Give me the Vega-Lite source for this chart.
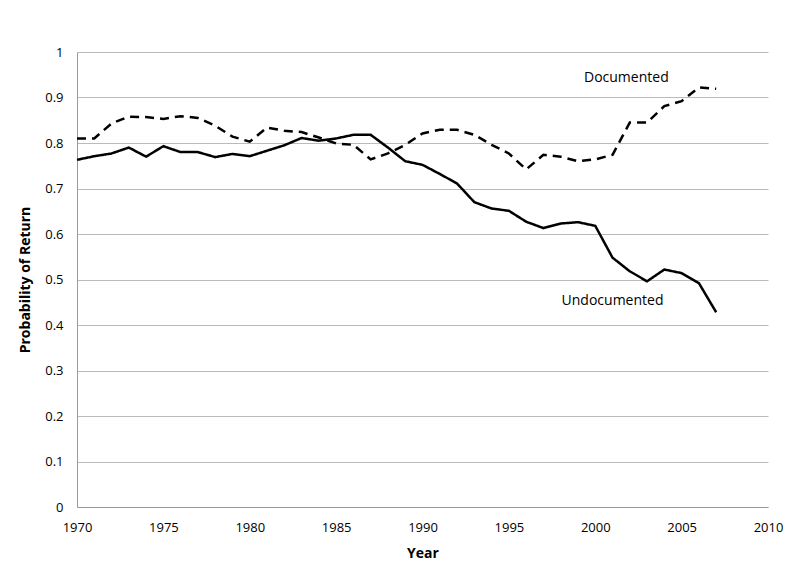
{
  "$schema": "https://vega.github.io/schema/vega-lite/v6.json",
  "width": 691,
  "height": 455,
  "autosize": {"type": "none"},
  "padding": {"left": 77, "top": 52, "right": 32, "bottom": 74},
  "background": "white",
  "config": {
    "font": "Open Sans",
    "view": {"stroke": null},
    "axis": {"labelFont": "Open Sans", "titleFont": "Open Sans", "labelColor": "#000", "titleColor": "#000", "labelFontSize": 13, "titleFontSize": 14, "titleFontWeight": "bold"}
  },
  "datasets": {
    "series": [
      {"year": 1970, "series": "Undocumented", "p": 0.763},
      {"year": 1971, "series": "Undocumented", "p": 0.771},
      {"year": 1972, "series": "Undocumented", "p": 0.777},
      {"year": 1973, "series": "Undocumented", "p": 0.790},
      {"year": 1974, "series": "Undocumented", "p": 0.770},
      {"year": 1975, "series": "Undocumented", "p": 0.793},
      {"year": 1976, "series": "Undocumented", "p": 0.780},
      {"year": 1977, "series": "Undocumented", "p": 0.780},
      {"year": 1978, "series": "Undocumented", "p": 0.769},
      {"year": 1979, "series": "Undocumented", "p": 0.776},
      {"year": 1980, "series": "Undocumented", "p": 0.771},
      {"year": 1981, "series": "Undocumented", "p": 0.783},
      {"year": 1982, "series": "Undocumented", "p": 0.795},
      {"year": 1983, "series": "Undocumented", "p": 0.811},
      {"year": 1984, "series": "Undocumented", "p": 0.805},
      {"year": 1985, "series": "Undocumented", "p": 0.810},
      {"year": 1986, "series": "Undocumented", "p": 0.818},
      {"year": 1987, "series": "Undocumented", "p": 0.818},
      {"year": 1988, "series": "Undocumented", "p": 0.790},
      {"year": 1989, "series": "Undocumented", "p": 0.760},
      {"year": 1990, "series": "Undocumented", "p": 0.752},
      {"year": 1991, "series": "Undocumented", "p": 0.732},
      {"year": 1992, "series": "Undocumented", "p": 0.711},
      {"year": 1993, "series": "Undocumented", "p": 0.670},
      {"year": 1994, "series": "Undocumented", "p": 0.656},
      {"year": 1995, "series": "Undocumented", "p": 0.651},
      {"year": 1996, "series": "Undocumented", "p": 0.627},
      {"year": 1997, "series": "Undocumented", "p": 0.613},
      {"year": 1998, "series": "Undocumented", "p": 0.623},
      {"year": 1999, "series": "Undocumented", "p": 0.626},
      {"year": 2000, "series": "Undocumented", "p": 0.618},
      {"year": 2001, "series": "Undocumented", "p": 0.548},
      {"year": 2002, "series": "Undocumented", "p": 0.518},
      {"year": 2003, "series": "Undocumented", "p": 0.496},
      {"year": 2004, "series": "Undocumented", "p": 0.522},
      {"year": 2005, "series": "Undocumented", "p": 0.514},
      {"year": 2006, "series": "Undocumented", "p": 0.492},
      {"year": 2007, "series": "Undocumented", "p": 0.428},
      {"year": 1970, "series": "Documented", "p": 0.810},
      {"year": 1971, "series": "Documented", "p": 0.810},
      {"year": 1972, "series": "Documented", "p": 0.843},
      {"year": 1973, "series": "Documented", "p": 0.858},
      {"year": 1974, "series": "Documented", "p": 0.857},
      {"year": 1975, "series": "Documented", "p": 0.853},
      {"year": 1976, "series": "Documented", "p": 0.859},
      {"year": 1977, "series": "Documented", "p": 0.855},
      {"year": 1978, "series": "Documented", "p": 0.838},
      {"year": 1979, "series": "Documented", "p": 0.814},
      {"year": 1980, "series": "Documented", "p": 0.803},
      {"year": 1981, "series": "Documented", "p": 0.834},
      {"year": 1982, "series": "Documented", "p": 0.827},
      {"year": 1983, "series": "Documented", "p": 0.824},
      {"year": 1984, "series": "Documented", "p": 0.812},
      {"year": 1985, "series": "Documented", "p": 0.799},
      {"year": 1986, "series": "Documented", "p": 0.796},
      {"year": 1987, "series": "Documented", "p": 0.764},
      {"year": 1988, "series": "Documented", "p": 0.777},
      {"year": 1989, "series": "Documented", "p": 0.796},
      {"year": 1990, "series": "Documented", "p": 0.821},
      {"year": 1991, "series": "Documented", "p": 0.829},
      {"year": 1992, "series": "Documented", "p": 0.829},
      {"year": 1993, "series": "Documented", "p": 0.818},
      {"year": 1994, "series": "Documented", "p": 0.796},
      {"year": 1995, "series": "Documented", "p": 0.777},
      {"year": 1996, "series": "Documented", "p": 0.742},
      {"year": 1997, "series": "Documented", "p": 0.774},
      {"year": 1998, "series": "Documented", "p": 0.770},
      {"year": 1999, "series": "Documented", "p": 0.760},
      {"year": 2000, "series": "Documented", "p": 0.764},
      {"year": 2001, "series": "Documented", "p": 0.774},
      {"year": 2002, "series": "Documented", "p": 0.845},
      {"year": 2003, "series": "Documented", "p": 0.845},
      {"year": 2004, "series": "Documented", "p": 0.881},
      {"year": 2005, "series": "Documented", "p": 0.892},
      {"year": 2006, "series": "Documented", "p": 0.922},
      {"year": 2007, "series": "Documented", "p": 0.919}
    ],
    "labels": [
      {"year": 2001.8, "p": 0.943, "text": "Documented"},
      {"year": 2001.0, "p": 0.453, "text": "Undocumented"}
    ]
  },
  "layer": [
    {
      "data": {"name": "series"},
      "mark": {"type": "line", "color": "black", "strokeWidth": 2.5},
      "encoding": {
        "x": {
          "field": "year", "type": "quantitative",
          "scale": {"domain": [1970, 2010], "nice": false, "zero": false},
          "axis": {"title": "Year", "values": [1970, 1975, 1980, 1985, 1990, 1995, 2000, 2005, 2010], "format": "d", "grid": false, "ticks": false, "labelFlush": false, "labelPadding": 14, "domainColor": "#999", "titlePadding": 12}
        },
        "y": {
          "field": "p", "type": "quantitative",
          "scale": {"domain": [0, 1], "nice": false},
          "axis": {"title": "Probability of Return", "values": [0, 0.1, 0.2, 0.3, 0.4, 0.5, 0.6, 0.7, 0.8, 0.9, 1], "format": ".1~f", "grid": true, "gridColor": "#BBBBBB", "gridWidth": 1, "ticks": false, "labelFlush": false, "labelPadding": 14, "domainColor": "#999", "titlePadding": 12}
        },
        "strokeDash": {
          "field": "series", "type": "nominal",
          "scale": {"domain": ["Documented", "Undocumented"], "range": [[9, 6], [1, 0]]},
          "legend": null
        },
        "detail": {"field": "series"}
      }
    },
    {
      "data": {"name": "labels"},
      "mark": {"type": "text", "font": "Open Sans", "fontSize": 14, "color": "black", "align": "center", "baseline": "middle"},
      "encoding": {
        "x": {"field": "year", "type": "quantitative"},
        "y": {"field": "p", "type": "quantitative"},
        "text": {"field": "text"}
      }
    }
  ]
}
